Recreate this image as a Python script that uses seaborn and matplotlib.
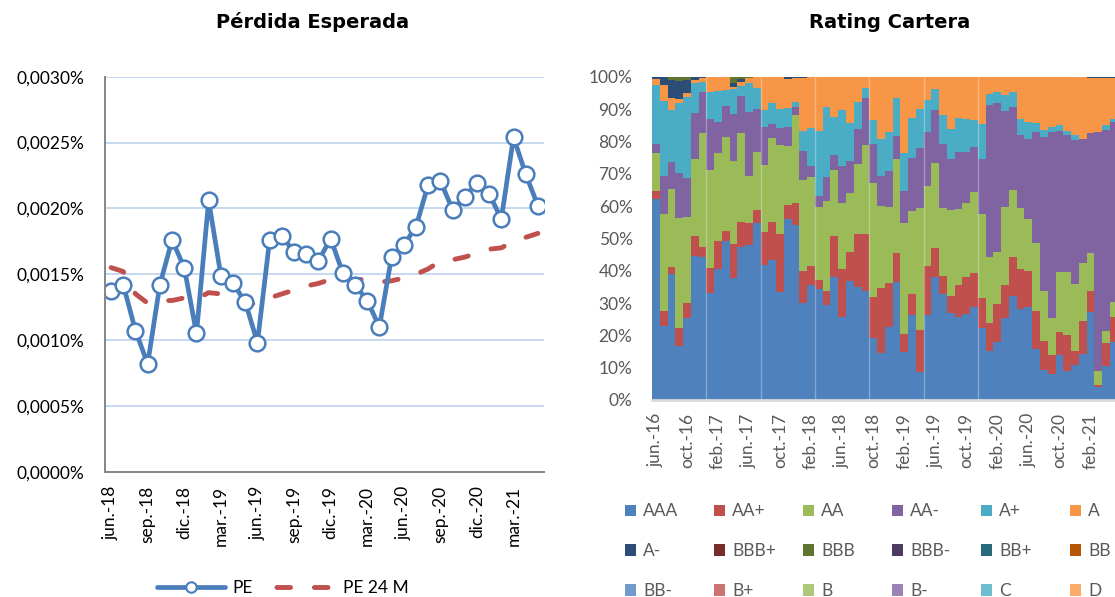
import matplotlib
matplotlib.use("Agg")
import matplotlib.pyplot as plt
from matplotlib.ticker import FuncFormatter, MultipleLocator
from matplotlib.lines import Line2D
from matplotlib.patches import Patch
import pandas as pd
import seaborn as sns

# Pérdida Esperada (%), monthly jun-18 .. may-21
pe = [0.00137, 0.00142, 0.00107, 0.00082, 0.00142, 0.00176, 0.00155, 0.00105, 0.00206, 0.00149,
      0.00143, 0.00129, 0.00098, 0.00176, 0.00179, 0.00167, 0.00165, 0.00160, 0.00177, 0.00151,
      0.00142, 0.00130, 0.00110, 0.00163, 0.00172, 0.00186, 0.00218, 0.00221, 0.00199, 0.00209,
      0.00219, 0.00211, 0.00192, 0.00254, 0.00226, 0.00202]
pe_24m = [0.00155, 0.00152, 0.00135, 0.00128, 0.00130, 0.00130, 0.00132, 0.00131, 0.00136, 0.00135,
          0.00130, 0.00127, 0.00128, 0.00132, 0.00135, 0.00138, 0.00141, 0.00143, 0.00146, 0.00146,
          0.00146, 0.00146, 0.00144, 0.00145, 0.00147, 0.00150, 0.00154, 0.00160, 0.00161, 0.00163,
          0.00166, 0.00169, 0.00170, 0.00175, 0.00178, 0.00181]
pe_ticklabels = ["jun.-18", "sep.-18", "dic.-18", "mar.-19", "jun.-19", "sep.-19",
                 "dic.-19", "mar.-20", "jun.-20", "sep.-20", "dic.-20", "mar.-21"]

# Rating Cartera (% of portfolio), monthly jun-16 .. may-21
aaa = [62.1, 22.9, 39.0, 16.7, 25.3, 44.5, 44.1, 33.2, 40.5, 49.2,
       37.6, 47.4, 47.9, 54.8, 41.8, 43.3, 33.5, 56.0, 54.1, 29.9,
       35.6, 34.3, 29.4, 38.1, 25.8, 36.8, 34.8, 33.8, 19.3, 14.6,
       22.7, 36.6, 14.9, 26.3, 8.8, 26.3, 38.1, 32.8, 26.8, 25.8,
       26.6, 28.7, 22.4, 15.3, 18.0, 25.3, 32.2, 28.0, 28.9, 15.7,
       9.3, 8.0, 13.9, 9.1, 10.8, 14.2, 27.3, 4.1, 10.5, 18.0]
aa_plus = [2.6, 4.7, 2.2, 5.5, 4.8, 6.2, 3.1, 7.5, 8.8, 3.2,
           10.6, 7.8, 6.7, 4.0, 10.3, 11.9, 17.8, 4.3, 6.9, 10.1,
           5.8, 2.8, 4.4, 12.7, 14.7, 8.9, 16.5, 17.5, 12.5, 19.9,
           13.6, 9.0, 5.5, 6.5, 12.8, 15.1, 8.8, 5.6, 5.4, 9.8,
           11.5, 10.7, 9.0, 8.4, 11.7, 10.3, 12.1, 12.4, 11.1, 11.9,
           9.1, 5.9, 7.2, 11.0, 4.5, 10.3, 6.5, 0.5, 7.0, 7.6]
aa = [11.6, 29.9, 24.0, 34.0, 26.6, 23.7, 35.5, 30.4, 27.2, 29.0,
      25.8, 27.5, 14.7, 18.0, 20.6, 25.7, 27.6, 18.3, 27.1, 28.0,
      27.7, 22.5, 27.8, 20.3, 20.5, 18.2, 21.7, 27.6, 35.2, 25.5,
      23.3, 28.8, 34.2, 25.8, 37.7, 24.8, 26.3, 20.9, 26.6, 23.4,
      22.9, 25.0, 26.1, 20.4, 16.2, 24.2, 20.6, 18.9, 15.9, 21.1,
      15.4, 11.4, 18.6, 19.6, 20.6, 17.8, 11.8, 4.5, 3.9, 4.8]
aa_minus = [2.9, 11.8, 8.5, 14.1, 11.9, 14.5, 12.7, 15.7, 9.6, 9.5,
            14.5, 11.3, 19.9, 13.1, 11.6, 4.5, 5.1, 5.7, 2.4, 9.1,
            3.3, 3.5, 7.3, 4.7, 11.4, 10.1, 10.7, 14.4, 12.2, 9.3,
            11.3, 7.2, 10.1, 16.1, 18.8, 16.8, 16.5, 19.9, 15.6, 17.8,
            15.8, 14.0, 16.9, 47.1, 45.9, 29.7, 25.8, 22.7, 24.7, 34.3,
            47.4, 57.7, 43.5, 42.2, 44.5, 38.5, 37.1, 73.9, 62.1, 55.7]
a_plus = [18.2, 23.3, 16.0, 21.5, 25.2, 9.2, 3.1, 8.6, 9.6, 5.0,
          7.6, 3.1, 8.7, 6.5, 5.4, 6.4, 5.9, 5.9, 1.8, 6.2,
          11.6, 20.1, 21.6, 11.6, 17.3, 11.6, 8.6, 3.1, 7.4, 11.4,
          12.1, 11.7, 11.8, 12.4, 11.8, 9.8, 6.5, 8.9, 9.4, 10.3,
          10.0, 8.2, 11.0, 3.4, 3.6, 4.8, 4.7, 4.8, 5.5, 2.8,
          2.3, 1.3, 1.9, 1.4, 1.5, 0.0, 0.0, 0.0, 1.6, 0.7]
a = [1.8, 4.8, 3.6, 1.2, 1.3, 0.9, 1.0, 4.6, 4.3, 4.1,
     0.8, 1.4, 1.6, 3.6, 10.3, 8.2, 10.1, 9.0, 7.3, 16.3,
     16.0, 16.8, 9.5, 12.6, 10.3, 14.4, 7.7, 3.6, 13.4, 19.3,
     17.0, 6.7, 23.5, 12.9, 10.1, 7.2, 3.8, 11.9, 16.2, 12.9,
     13.2, 13.4, 14.6, 5.4, 4.6, 5.7, 4.6, 13.2, 13.9, 14.2,
     16.5, 15.7, 14.9, 16.7, 18.1, 19.2, 16.9, 16.6, 14.5, 12.8]
a_minus = [0.8, 2.6, 5.7, 5.8, 3.9, 1.0, 0.5, 0, 0, 0,
           1.0, 0.7, 0, 0, 0, 0, 0, 0.8, 0.4, 0.4,
           0, 0, 0, 0, 0, 0, 0, 0, 0, 0,
           0, 0, 0, 0, 0, 0, 0, 0, 0, 0,
           0, 0, 0, 0, 0, 0, 0, 0, 0, 0,
           0, 0, 0, 0, 0, 0, 0.4, 0.4, 0.4, 0.4]
bbb = [0, 0, 1.0, 1.2, 1.0, 0, 0, 0, 0, 0,
       2.1, 0.8, 0.5, 0, 0, 0, 0, 0, 0, 0,
       0, 0, 0, 0, 0, 0, 0, 0, 0, 0,
       0, 0, 0, 0, 0, 0, 0, 0, 0, 0,
       0, 0, 0, 0, 0, 0, 0, 0, 0, 0,
       0, 0, 0, 0, 0, 0, 0, 0, 0, 0]
rating_ticklabels = ["jun.-16", "oct.-16", "feb.-17", "jun.-17", "oct.-17", "feb.-18", "jun.-18",
                     "oct.-18", "feb.-19", "jun.-19", "oct.-19", "feb.-20", "jun.-20", "oct.-20",
                     "feb.-21"]
ratings = ["AAA", "AA+", "AA", "AA-", "A+", "A", "A-", "BBB+", "BBB", "BBB-", "BB+", "BB",
           "BB-", "B+", "B", "B-", "C", "D"]
rating_colors = ["#4F81BD", "#C0504D", "#9BBB59", "#8064A2", "#4BACC6", "#F79646",
                 "#2C4D75", "#772C2A", "#5F7530", "#4D3B62", "#276A7C", "#B65708",
                 "#729ACA", "#CD7371", "#AFC97A", "#9983B5", "#6FBDD1", "#F9AB6B"]

series = {"AAA": aaa, "AA+": aa_plus, "AA": aa, "AA-": aa_minus,
          "A+": a_plus, "A": a, "A-": a_minus, "BBB": bbb}
rows = []
for name, vals in series.items():
    for i, v in enumerate(vals):
        rows.append({"month": i, "rating": name, "pct": v})
df = pd.DataFrame(rows)
palette = dict(zip(ratings, rating_colors))

sns.set_style("white")
plt.rcParams["font.family"] = ["Lato", "DejaVu Sans"]
plt.rcParams["text.color"] = "black"
plt.rcParams["xtick.labelcolor"] = "black"
plt.rcParams["ytick.labelcolor"] = "black"

W, H = 1115, 597
fig = plt.figure(figsize=(W / 100, H / 100), dpi=100)
ax1 = fig.add_axes([105 / W, 1 - 471.7 / H, 439 / W, 395 / H])
ax2 = fig.add_axes([652 / W, 1 - 400 / H, 465.6 / W, 323.3 / H])

# ---- left: Pérdida Esperada
blue = "#4A7EBB"
red = "#C0504D"
dash = (0, (2.8, 4.9))
months = list(range(len(pe)))
sns.lineplot(x=months, y=pe_24m, ax=ax1, color=red, linewidth=3.5, errorbar=None,
             linestyle=dash, dash_capstyle="round")
sns.lineplot(x=months, y=pe, ax=ax1, color=blue, linewidth=3.4, errorbar=None,
             marker="o", markersize=11.3, markerfacecolor="white",
             markeredgecolor=blue, markeredgewidth=1.8)

ax1.set_xlim(-0.5, len(pe) - 0.5)
ax1.set_ylim(0, 0.003)
ax1.yaxis.set_major_locator(MultipleLocator(0.0005))
ax1.yaxis.set_major_formatter(FuncFormatter(lambda v, _: f"{v:.4f}%".replace(".", ",")))
ax1.set_xticks(range(0, len(pe), 3))
ax1.set_xticklabels(pe_ticklabels, rotation=90)
ax1.set_xticks([x - 0.5 for x in range(0, len(pe) + 1, 3)], minor=True)
ax1.tick_params(axis="x", which="major", length=0, pad=10, labelsize=12.5, labelcolor="black")
ax1.tick_params(axis="x", which="minor", length=4, width=1.3, color="#868686", direction="out")
ax1.tick_params(axis="y", length=4, width=1.3, color="#868686", direction="out",
                labelsize=12.5, pad=11, labelcolor="black")
ax1.grid(axis="y", color="#C6D9F1", linewidth=1.4)
ax1.set_axisbelow(True)
for s in ["top", "right"]:
    ax1.spines[s].set_visible(False)
for s in ["left", "bottom"]:
    ax1.spines[s].set_color("#868686")
    ax1.spines[s].set_linewidth(1.4)
ax1.set_xlabel("")
ax1.set_ylabel("")

pe_handles = [
    Line2D([], [], color=blue, linewidth=3.4, marker="o", markersize=7.5,
           markerfacecolor="white", markeredgecolor=blue, markeredgewidth=1.5),
    Line2D([], [], color=red, linewidth=3.5, linestyle=(5.96, (2.8, 4.9)), dash_capstyle="round"),
]
fig.legend(pe_handles, ["PE", "PE 24 M"], loc="center", bbox_to_anchor=(283 / W, 1 - 588 / H),
           ncol=2, frameon=False, fontsize=12.5, handlelength=3.9, columnspacing=0.9,
           handletextpad=0.4, labelcolor="black")

# ---- right: Rating Cartera (100% stacked; seaborn stacks last hue level at the bottom)
sns.histplot(data=df, x="month", weights="pct", hue="rating",
             hue_order=list(series.keys())[::-1],
             multiple="fill", discrete=True, element="step", palette=palette,
             alpha=1, linewidth=0, legend=False, ax=ax2)
n = len(aaa)
ax2.set_xlim(-0.5, n - 0.5)
ax2.set_ylim(0, 1)
ax2.yaxis.set_major_locator(MultipleLocator(0.1))
ax2.yaxis.set_major_formatter(FuncFormatter(lambda v, _: f"{v * 100:.0f}%"))
ax2.set_xticks(range(0, n, 4))
ax2.set_xticklabels(rating_ticklabels, rotation=90)
ax2.tick_params(axis="x", length=0, pad=9.5, labelsize=12.5, labelcolor="#595959")
ax2.tick_params(axis="y", length=0, pad=14, labelsize=12.5, labelcolor="#595959")
for k in range(7, 43, 7):
    ax2.axvline(k - 0.5, color="white", alpha=0.3, linewidth=1)
for s in ["top", "right", "left"]:
    ax2.spines[s].set_visible(False)
ax2.spines["bottom"].set_color("#D9D9D9")
ax2.spines["bottom"].set_linewidth(2)
ax2.set_xlabel("")
ax2.set_ylabel("")

# legend laid out row-wise like the original (6 per row, fixed column width)
col_x = [625, 714, 803, 892, 981, 1070]
for j, x in enumerate(col_x):
    idx = [j, j + 6, j + 12]
    fig.legend([Patch(facecolor=rating_colors[i], edgecolor="none") for i in idx],
               [ratings[i] for i in idx], loc="upper left",
               bbox_to_anchor=(x / W, 1 - 503.5 / H), frameon=False, fontsize=12.5,
               labelcolor="#595959", handlelength=0.65, handleheight=0.65,
               handletextpad=0.4, labelspacing=1.37, borderpad=0, borderaxespad=0)

fig.text(313 / W, 1 - 28.3 / H, "Pérdida Esperada", ha="center", va="baseline",
         fontsize=14, fontweight="bold", family="DejaVu Sans", color="black")
fig.text(890 / W, 1 - 28.3 / H, "Rating Cartera", ha="center", va="baseline",
         fontsize=14, fontweight="bold", family="DejaVu Sans", color="black")

fig.savefig("out.png", dpi=100)
